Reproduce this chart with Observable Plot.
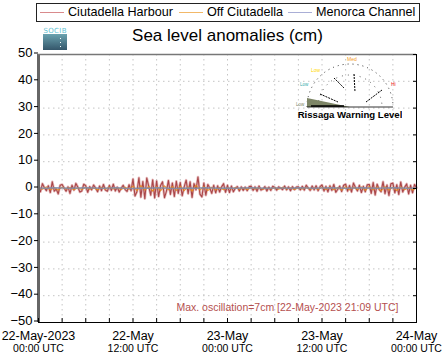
<!DOCTYPE html>
<html><head><meta charset="utf-8">
<script src="https://cdn.jsdelivr.net/npm/d3@7"></script>
<script src="https://cdn.jsdelivr.net/npm/@observablehq/plot@0.6"></script>
<style>
body{margin:0;background:#fff;font-family:"Liberation Sans",Arial,sans-serif;}
#wrap{position:relative;width:445px;height:359px;overflow:hidden;}
#wrap svg.plot{position:absolute;left:0;top:0;}
.legend{position:absolute;left:36px;top:3px;width:382px;height:17px;border:1px solid #222;background:#fff;font-size:12.6px;}
.legend span{position:absolute;top:1px;white-space:nowrap;}
.legend i{position:absolute;top:8px;width:24px;height:0;border-top:1.5px solid;}
.title{position:absolute;left:0;width:455px;top:26px;text-align:center;font-size:17px;}
</style></head>
<body><div id="wrap"></div>
<script>
// ---- data ----
const seriesNames = ["Ciutadella Harbour", "Off Ciutadella", "Menorca Channel"];
const startTime = "2023-05-22T00:00:00Z";
const endTime = "2023-05-24T00:00:00Z";
// Ciutadella Harbour, every 15 min (cm)
const harbourStepMin = 15;
const harbour = [
 0.5,-1.2,1.8,0.3,-0.8,1.0,-1.5,2.5,-1.0,-0.2,-2.0,1.2,
 1.5,0.2,-1.0,0.6,-1.8,1.2,-0.6,1.9,0.5,-1.3,-0.9,1.6,
 1.0,-1.4,0.7,-0.5,1.3,0.2,-1.2,0.9,-0.8,1.5,-0.6,-1.0,
 1.1,-0.7,1.6,-0.9,0.5,-1.3,0.1,1.2,-0.4,-1.1,1.4,-0.8,
 3.5,-2.8,-1.2,4.0,-3.2,2.6,-3.8,3.9,0.8,-2.5,3.2,-3.5,
 2.8,-3.0,1.1,2.5,-3.4,-1.0,3.0,-2.2,2.0,-3.0,2.7,-1.8,
 2.2,-2.7,0.6,3.1,-1.9,2.5,-3.3,1.8,-0.5,4.3,-2.1,-3.1,
 2.0,-2.5,1.5,0.2,-1.8,1.2,-1.6,1.0,-1.3,0.6,1.8,-1.4,
 1.2,-1.5,0.9,-1.2,0.1,0.7,-0.9,0.6,-0.7,0.5,-0.8,0.7,
 0.8,-0.7,0.6,-1.0,0.9,-0.6,-0.2,0.7,-0.9,0.5,-0.7,0.8,
 0.4,-0.6,0.6,0.1,-0.4,0.9,-0.5,0.6,-0.8,0.7,-0.4,0.5,
 0.6,-0.5,0.8,-0.6,1.2,0.2,-0.7,0.9,-0.5,1.0,-0.8,0.7,
 1.3,-0.9,0.8,-1.2,1.0,-0.7,1.5,-1.4,-0.3,0.9,-1.1,1.2,
 1.6,-1.0,1.1,-1.3,2.0,0.4,-0.9,1.2,-1.5,0.8,-1.2,1.4,
 1.5,-1.8,2.2,-2.4,1.6,-0.3,-1.2,2.5,-1.9,1.3,-2.6,1.8,
 2.0,-1.6,1.4,-2.2,2.4,-1.3,0.5,1.7,-2.0,1.2,-1.6,1.5,
 0.3
];
// Off Ciutadella, every 30 min (cm)
const offStepMin = 30;
const offCiutadella = [
 0.4,-0.3,0.6,-0.5,0.3,-0.6,0.5,-0.2,0.4,-0.5,0.3,-0.4,0.5,-0.3,0.2,-0.5,0.4,-0.3,0.6,-0.2,0.3,-0.4,0.5,-0.3,
 0.9,-0.8,1.1,-0.6,0.8,-1.0,0.7,-0.9,1.0,-0.5,0.8,-0.7,0.9,-0.8,0.6,-1.0,1.2,-0.6,0.7,-0.8,0.5,-0.6,0.4,-0.5,
 0.3,-0.2,0.4,-0.3,0.2,-0.4,0.3,-0.2,0.3,-0.3,0.2,-0.2,0.4,-0.3,0.5,-0.2,0.3,-0.4,0.3,-0.2,0.4,-0.3,0.2,-0.3,
 0.5,-0.4,0.6,-0.5,0.4,-0.6,0.7,-0.5,0.5,-0.4,0.6,-0.7,0.8,-0.5,0.6,-0.9,0.7,-0.6,0.5,-0.8,0.6,-0.5,0.4,-0.6,
 0.2
];
// Menorca Channel, hourly (cm)
const channelStepMin = 60;
const menorcaChannel = [
 0.2,0.1,0.3,0.2,0.1,0.2,0.3,0.2,0.1,0.2,0.3,0.1,0.0,0.2,0.1,0.3,0.2,0.0,0.1,0.2,0.1,0.3,0.2,0.1,
 0.2,0.1,0.2,0.3,0.2,0.1,0.2,0.2,0.1,0.3,0.2,0.1,0.2,0.3,0.2,0.1,0.2,0.3,0.2,0.1,0.2,0.3,0.2,0.1,
 0.2
];
const yTicks = [-50,-40,-30,-20,-10,0,10,20,30,40,50];
const xMajorTicks = ["2023-05-22T00:00:00Z","2023-05-22T12:00:00Z","2023-05-23T00:00:00Z","2023-05-23T12:00:00Z","2023-05-24T00:00:00Z"];
const xDateLabels = ["22-May-2023","22-May","23-May","23-May","24-May"];
const xTimeLabels = ["00:00 UTC","12:00 UTC","00:00 UTC","12:00 UTC","00:00 UTC"];
const minorStepHours = 3;
const titleText = "Sea level anomalies (cm)";
const noteText = "Max. oscillation=7cm [22-May-2023 21:09 UTC]";
const colors = ["#a3383b", "#e68a1c", "#7f8ca8"];
const legendColors = ["#d98a8c", "#f2b868", "#a9aed6"];

// ---- build tables ----
const t0 = new Date(startTime), t1 = new Date(endTime);
const toRows = (vals, step) => vals.map((v, i) => ({t: new Date(+t0 + i*step*60000), v}));
const hRows = toRows(harbour, harbourStepMin);
const oRows = toRows(offCiutadella, offStepMin);
const cRows = toRows(menorcaChannel, channelStepMin);
const minorTicks = d3.utcHour.every(minorStepHours).range(t0, new Date(+t1 + 1));
const majors = xMajorTicks.map(d => new Date(d));
const majorRows = majors.map((d, i) => ({t: d, a: xDateLabels[i], b: xTimeLabels[i]}));

const chart = Plot.plot({
  width: 445, height: 359,
  marginLeft: 38, marginRight: 29, marginTop: 54, marginBottom: 37,
  style: {fontFamily: '"Liberation Sans", Arial, sans-serif', fontSize: "13px", color: "black", background: "transparent", overflow: "visible"},
  x: {type: "utc", domain: [t0, t1], label: null},
  y: {domain: [-50, 50], label: null},
  marks: [
    Plot.gridX(minorTicks, {stroke: "#c4c4c4", strokeOpacity: 1, strokeDasharray: "1.5,3.5"}),
    Plot.gridY(yTicks, {stroke: "#c4c4c4", strokeOpacity: 1, strokeDasharray: "1.5,3.5"}),
    Plot.lineY(hRows, {x: "t", y: "v", stroke: "#d58d8f", strokeWidth: 2.6, strokeOpacity: 0.6}),
    Plot.lineY(hRows, {x: "t", y: "v", stroke: colors[0], strokeWidth: 1.1, strokeOpacity: 0.9}),
    Plot.lineY(oRows, {x: "t", y: "v", stroke: colors[1], strokeWidth: 1.1, strokeOpacity: 0.9}),
    Plot.lineY(cRows, {x: "t", y: "v", stroke: colors[2], strokeWidth: 1.6, strokeOpacity: 0.9}),
    Plot.frame({stroke: "black"}),
    Plot.ruleX([t0], {stroke: "#666", strokeWidth: 3}),
    Plot.ruleY([50], {stroke: "#777", strokeWidth: 1.5}),
    Plot.axisY(yTicks, {tickSize: 4, tickPadding: 2, fontSize: 13, dy: -1.5}),
    Plot.axisY(yTicks, {anchor: "right", tickSize: -4, tickFormat: () => "", label: null}),
    Plot.axisX(minorTicks, {tickSize: -4, tickFormat: () => "", label: null}),
    Plot.text(majorRows, {x: "t", text: "a", frameAnchor: "bottom", lineAnchor: "middle", dy: 13, fontSize: 12.5}),
    Plot.text(majorRows, {x: "t", text: "b", frameAnchor: "bottom", lineAnchor: "middle", dy: 26.5, fontSize: 10.5}),
    Plot.text([noteText], {text: d => d, frameAnchor: "bottom-right", lineAnchor: "middle", dx: -18, dy: -15, textAnchor: "end", fill: "#b5504f", fontSize: 10.5})
  ]
});
chart.classList.add("plot");
const wrap = document.getElementById("wrap");
wrap.appendChild(chart);

// legend
const legend = document.createElement("div");
legend.className = "legend";
const lx = [3, 142, 251];
seriesNames.forEach((n, i) => {
  const line = document.createElement("i");
  line.style.left = lx[i] + "px"; line.style.borderTopColor = legendColors[i];
  const s = document.createElement("span");
  s.style.left = (lx[i] + 28) + "px"; s.textContent = n;
  legend.appendChild(line); legend.appendChild(s);
});
wrap.appendChild(legend);

// title
const title = document.createElement("div");
title.className = "title"; title.textContent = titleText;
wrap.appendChild(title);

// logo + gauge (decoration)
const deco = document.createElement("div");
deco.innerHTML = `
<svg width="24" height="23" viewBox="0 0 24 23" style="position:absolute;left:43px;top:27px">
 <defs><linearGradient id="lg" x1="0" y1="0" x2="0" y2="1"><stop offset="0" stop-color="#6aa3b0"/><stop offset="1" stop-color="#34566a"/></linearGradient></defs>
 <text x="12" y="6" text-anchor="middle" font-size="7" font-family="DejaVu Sans" fill="#5fc3d3" textLength="23">SOCIB</text>
 <rect x="0" y="7" width="24" height="16" fill="url(#lg)"/>
 <rect x="17" y="11" width="1" height="1" fill="#fff"/><rect x="17" y="15" width="1" height="1" fill="#fff"/><rect x="17" y="19" width="1" height="1" fill="#fff"/>
</svg>
<svg width="110" height="70" style="position:absolute;left:292px;top:54px" font-family="Liberation Sans, Arial">
 <path d="M15 53 A43 43 0 0 1 101 53" fill="none" stroke="#333" stroke-width="1" stroke-dasharray="1,4"/>
 <path d="M26 53 A32 32 0 0 1 90 53" fill="none" stroke="#333" stroke-width="0.8" stroke-dasharray="1,5"/>
 <polygon points="15,53 15,44 58,53" fill="#7d8566"/>
 <line x1="19" y1="52" x2="52" y2="52" stroke="#000" stroke-width="1.5"/>
 <line x1="28" y1="40" x2="46" y2="48" stroke="#000" stroke-width="1" stroke-dasharray="2,1"/>
 <line x1="42" y1="24" x2="52" y2="34" stroke="#000" stroke-width="1" stroke-dasharray="2,1"/>
 <line x1="62" y1="20" x2="63" y2="38" stroke="#000" stroke-width="1" stroke-dasharray="2,1"/>
 <line x1="74" y1="48" x2="90" y2="36" stroke="#000" stroke-width="1" stroke-dasharray="2,1"/>
 <line x1="15" y1="53" x2="101" y2="53" stroke="#000" stroke-width="0.8"/>
 <text x="4" y="52" font-size="4.5" fill="#7d8566">Low</text>
 <text x="8" y="32" font-size="4.5" fill="#3aa">Low</text>
 <text x="19" y="18" font-size="5" fill="#ffd700">Low</text>
 <text x="55" y="7" font-size="5" fill="#f39a1c">Med</text>
 <text x="99" y="32" font-size="5" fill="#e22">Hi</text>
 <text x="58" y="64" text-anchor="middle" font-size="9.6" font-weight="bold" fill="#000">Rissaga Warning Level</text>
</svg>`;
wrap.appendChild(deco);
</script>
</body></html>
